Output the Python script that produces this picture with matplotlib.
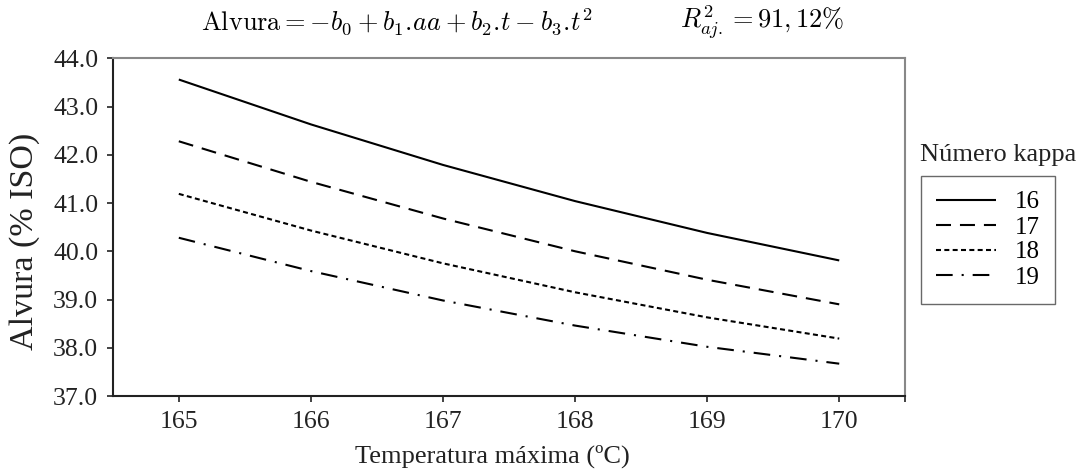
import matplotlib
matplotlib.use("Agg")
import matplotlib.pyplot as plt

# values
temperatura = [165, 166, 167, 168, 169, 170]
kappa_labels = ["16", "17", "18", "19"]
alvura_16 = [43.56, 42.63, 41.79, 41.04, 40.38, 39.81]
alvura_17 = [42.28, 41.44, 40.68, 40.00, 39.41, 38.90]
alvura_18 = [41.19, 40.43, 39.75, 39.15, 38.63, 38.19]
alvura_19 = [40.28, 39.59, 38.98, 38.46, 38.02, 37.67]
y_ticks = [37.0, 38.0, 39.0, 40.0, 41.0, 42.0, 43.0, 44.0]

plt.rcParams["font.family"] = ["Liberation Serif", "DejaVu Serif"]
plt.rcParams["mathtext.fontset"] = "cm"

fig = plt.figure(figsize=(10.79, 4.72), dpi=100)
ax = fig.add_axes([0.1045, 0.161, 0.7345, 0.7155])

styles = [
    (0, ()),
    (0, (7.2, 4.3)),
    (0, (2.4, 1.6)),
    (0, (8.0, 4.3, 1.0, 4.3)),
]
series = [alvura_16, alvura_17, alvura_18, alvura_19]
for label, values, ls in zip(kappa_labels, series, styles):
    ax.plot(temperatura, values, color="black", lw=1.5, linestyle=ls, label=label)

ax.set_xlim(164.5, 170.5)
ax.set_ylim(37.0, 44.0)
ax.set_xticks(temperatura + [170.5])
ax.set_xticklabels([str(t) for t in temperatura] + [""])
ax.set_yticks(y_ticks)
ax.set_yticklabels(["%.1f" % v for v in y_ticks])
ax.tick_params(labelsize=18.5, length=4.5, width=1.2, pad=6,
               direction="out", color="#222222", labelcolor="#222222")

for side in ["left", "bottom"]:
    ax.spines[side].set_color("#222222")
    ax.spines[side].set_linewidth(1.5)
for side in ["top", "right"]:
    ax.spines[side].set_color("#888888")
    ax.spines[side].set_linewidth(1.5)

# axis titles
fig.text(0.456, 0.034, "Temperatura máxima (ºC)", fontsize=19, color="#222222",
         ha="center", va="center")
fig.text(0.023, 0.489, "Alvura (% ISO)", fontsize=24.5, color="#222222",
         rotation=90, ha="center", va="center")

# formula and adjusted R2 above the plot
fig.text(0.186, 0.953,
         r"$\mathrm{Alvura} = -b_0 + b_1.\!aa + b_2.\!t - b_3.\!t^2$",
         fontsize=19, ha="left", va="center")
fig.text(0.630, 0.953, r"$R^2_{aj.} = 91,12\%$", fontsize=19, ha="left", va="center")

leg = ax.legend(loc="upper left", bbox_to_anchor=(921 / 1079, 1 - 176 / 472),
                bbox_transform=fig.transFigure, borderaxespad=0, fontsize=18,
                frameon=True, fancybox=False, handlelength=2.4, handletextpad=0.75,
                labelspacing=0.1, borderpad=0.6, edgecolor="#444444")
leg.get_frame().set_linewidth(1.0)
fig.text(0.853, 0.672, "Número kappa", fontsize=19, color="#222222",
         ha="left", va="center")

fig.savefig("out.png", dpi=100)
